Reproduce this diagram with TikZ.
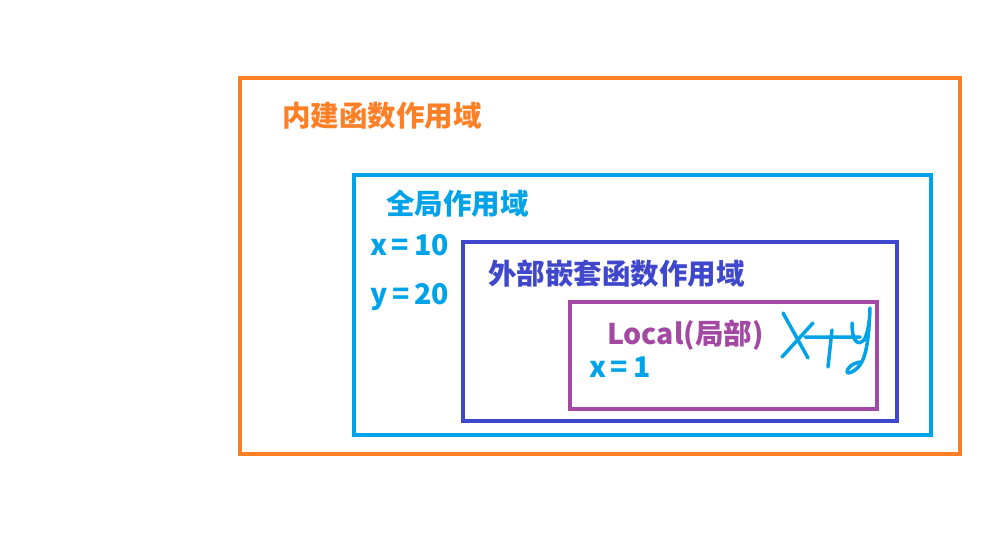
\documentclass[tikz,border=0pt]{standalone}
\usepackage{fontspec}
\setmainfont{Noto Sans CJK SC}
\usetikzlibrary{positioning}
\definecolor{porange}{RGB}{255,127,39}
\definecolor{pblue}{RGB}{0,162,232}
\definecolor{pindigo}{RGB}{63,72,204}
\definecolor{ppurple}{RGB}{163,73,164}
\tikzset{
  scopebox/.style={draw=#1, line width=4pt, minimum width=0pt},
  scopelabel/.style={text=#1, font=\fontsize{28.5}{32}\selectfont\bfseries, anchor=west, inner sep=0pt},
}

\begin{document}
\begin{tikzpicture}[x=1pt, y=-1pt]
    \useasboundingbox (0,0) rectangle (1002,544);
    % nested scopes
    \draw[scopebox=porange] (240,78) rectangle (960,454);
    \draw[scopebox=pblue] (354,175) rectangle (931,435);
    \draw[scopebox=pindigo] (463,242) rectangle (897,421);
    \draw[scopebox=ppurple] (570,302) rectangle (877,409);
    % labels
    \node[scopelabel=porange] (builtin) at (282,116) {内建函数作用域};
    \node[scopelabel=pblue] (global) at (386,204) {全局作用域};
    \node[scopelabel=pblue] (gx) at (370,245) {x\,=\,10};
    \node[scopelabel=pblue] (gy) at (370,297) {y\,=\,20};
    \node[scopelabel=pindigo] (enclosing) at (488,274) {外部嵌套函数作用域};
    \node[scopelabel=ppurple] (local) at (607,335) {Local(局部)};
    \node[scopelabel=pblue] (lx) at (589,367) {x\,=\,1};
    % handwritten x+y
    \draw[pblue, line width=3.5pt, line cap=round, line join=round]
      (783,313) -- (808,358) (813,323) -- (782,357)
      (805,337) -- (860,337) (832,330) -- (828,367)
      (852,323) .. controls (852,342) and (858,346) .. (864,340)
      .. controls (868,334) and (870,318) .. (870,308)
      .. controls (869,335) and (867,355) .. (860,365)
      .. controls (854,373) and (844,376) .. (848,369)
      .. controls (851,364) and (856,363) .. (860,362);
\end{tikzpicture}
\end{document}
